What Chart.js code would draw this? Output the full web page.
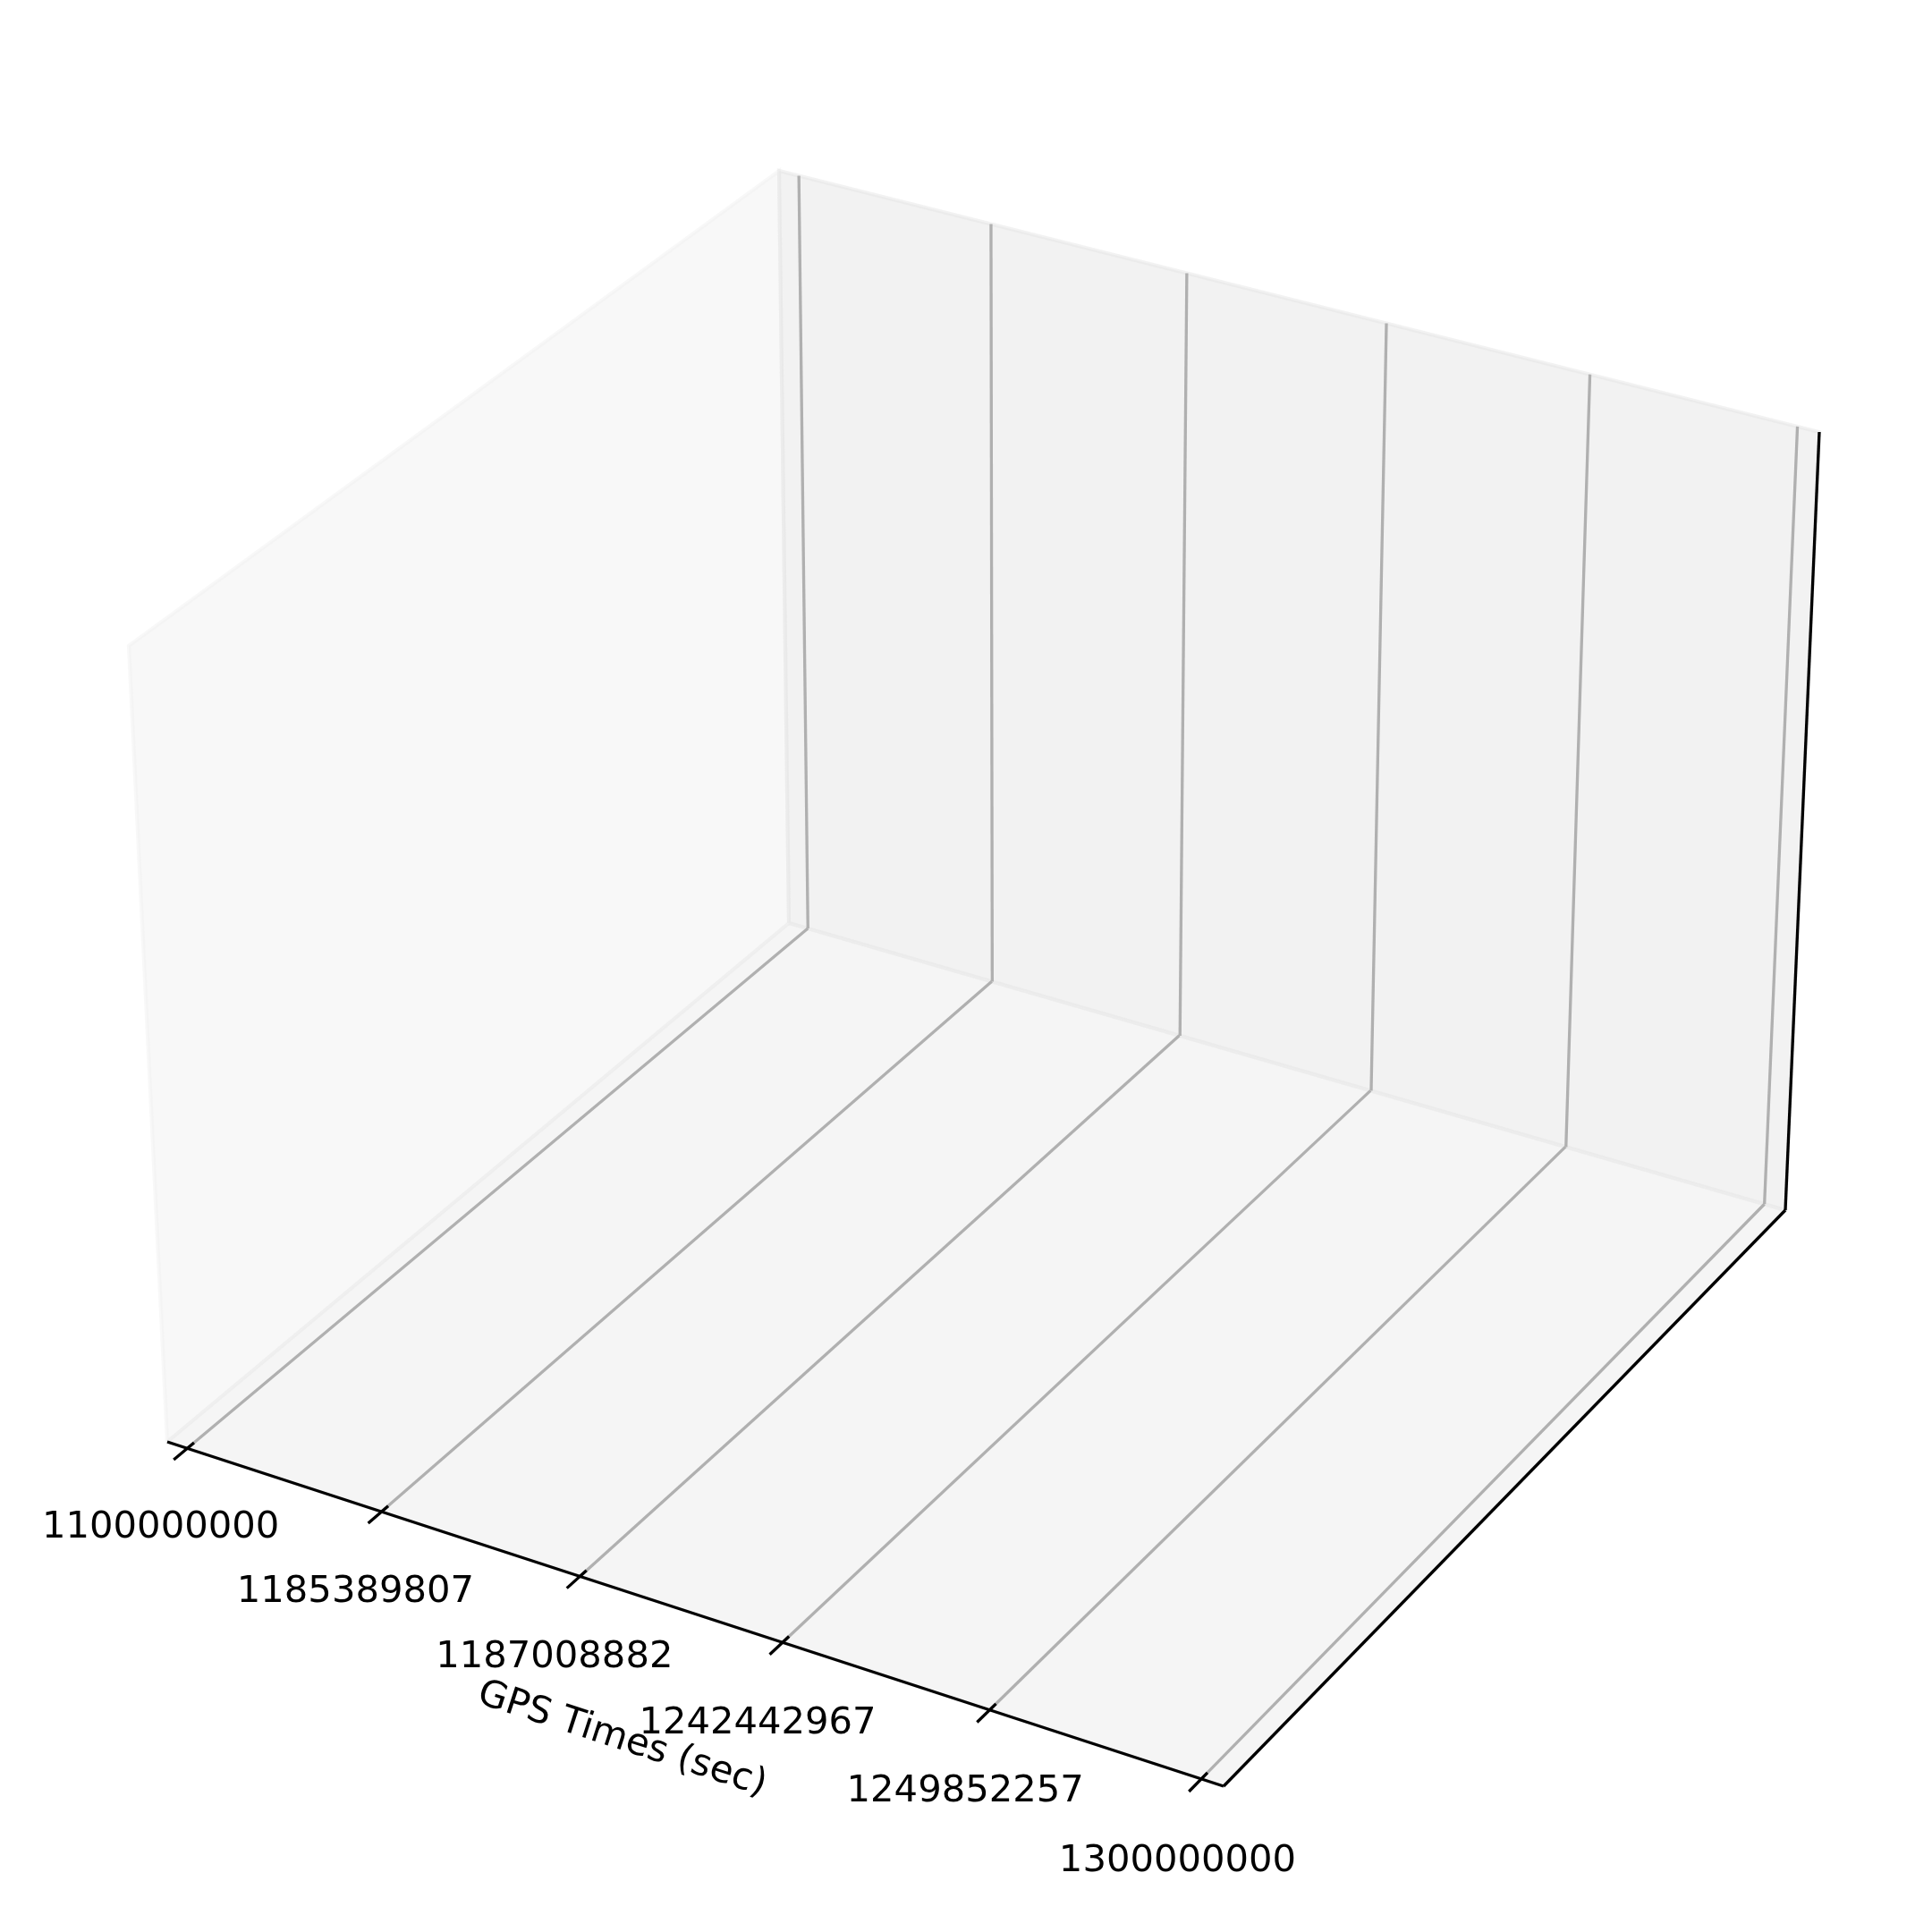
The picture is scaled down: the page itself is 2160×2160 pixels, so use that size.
<!DOCTYPE html>
<html><head><meta charset="utf-8">
<script src="https://cdn.jsdelivr.net/npm/chart.js@4.4.1/dist/chart.umd.min.js"></script>
<style>html,body{margin:0;padding:0;background:#fff;overflow:hidden}</style>
</head><body>
<canvas id="c" width="2160" height="2160" style="width:2160px;height:2160px"></canvas>
<script>
// ---- data ----
const xTickLabels = ['1100000000','1185389807','1187008882','1242442967','1249852257','1300000000'];
const xTickPositions = [0,1,2,3,4,5];
const yTickPositions = [];
const zTickPositions = [];
const xAxisTitle = 'GPS Times (sec)';

// ---- layout: projected corners of the 3D box (screen px) ----
const A=[187,1612], B=[1368,1997], C=[1996,1353], D=[882,1032], E=[144,722], F=[871,191], G=[2034,483];

function homography(p0,p1,p2,p3){ // (0,0),(1,0),(1,1),(0,1)
  const dx1=p1[0]-p2[0], dx2=p3[0]-p2[0], dx3=p0[0]-p1[0]+p2[0]-p3[0];
  const dy1=p1[1]-p2[1], dy2=p3[1]-p2[1], dy3=p0[1]-p1[1]+p2[1]-p3[1];
  const det=dx1*dy2-dx2*dy1;
  const g=(dx3*dy2-dx2*dy3)/det, h=(dx1*dy3-dx3*dy1)/det;
  const a=p1[0]-p0[0]+g*p1[0], b=p3[0]-p0[0]+h*p3[0], c=p0[0];
  const d=p1[1]-p0[1]+g*p1[1], e=p3[1]-p0[1]+h*p3[1], f=p0[1];
  return (u,v)=>{const w=g*u+h*v+1; return {x:(a*u+b*v+c)/w, y:(d*u+e*v+f)/w};};
}
const floorMap = homography(A,B,C,D);   // u: x, v: y
const backMap  = homography(D,C,G,F);   // u: x, v: z
const leftMap  = homography(A,D,F,E);   // u: y, v: z

const xmin = Math.min(...xTickPositions), xmax = Math.max(...xTickPositions);
const pad = (xmax-xmin)/48;
const xFrac = t => (t-(xmin-pad))/((xmax+pad)-(xmin-pad));

const datasets = [];
function line(points, color, width, order, fillColor){
  datasets.push({data:points, showLine:true, borderColor:color, borderWidth:width,
    backgroundColor: fillColor||'transparent', fill: fillColor?'shape':false,
    pointRadius:0, pointHoverRadius:0, order:order, tension:0, borderCapStyle:'butt', borderJoinStyle:'miter'});
}
function pane(map, color){
  const pts=[map(0,0),map(1,0),map(1,1),map(0,1),map(0,0)];
  line(pts, color, 4.2, 100-datasets.length, color);
}
pane(leftMap,  'rgba(242,242,242,0.5)');
pane(backMap,  'rgba(230,230,230,0.5)');
pane(floorMap, 'rgba(236,236,236,0.5)');

// grid lines for x ticks (floor + back wall)
xTickPositions.forEach(t=>{
  const u=xFrac(t);
  line([floorMap(u,0),floorMap(u,1)], '#b0b0b0', 3.3, 50);
  line([backMap(u,0),backMap(u,1)], '#b0b0b0', 3.3, 50);
});
// axis lines
line([floorMap(0,0),floorMap(1,0)], '#000', 3.3, 10);
line([floorMap(1,0),floorMap(1,1)], '#000', 3.3, 10);
line([backMap(1,0),backMap(1,1)], '#000', 3.3, 10);
// tick marks
xTickPositions.forEach(t=>{
  const u=xFrac(t);
  line([floorMap(u,-0.02),floorMap(u,0.01)], '#000', 3.3, 5);
});

const FONT = '41.7px "DejaVu Sans"';
const labelPlugin = {
  id:'labels3d',
  afterDraw(chart){
    const ctx=chart.ctx;
    ctx.save();
    ctx.fillStyle='#000';
    ctx.font=FONT;
    ctx.textAlign='center';
    ctx.textBaseline='alphabetic';
    xTickPositions.forEach((t,i)=>{
      const p=floorMap(xFrac(t),-0.047);
      ctx.fillText(xTickLabels[i], p.x+6, p.y+55+15.2);
    });
    const a=floorMap(0,0), b=floorMap(1,0);
    const ang=Math.atan2(b.y-a.y,b.x-a.x);
    const m=floorMap(0.5,-0.095);
    ctx.translate(m.x+4, m.y+82);
    ctx.rotate(ang);
    ctx.textBaseline='middle';
    ctx.fillText(xAxisTitle,0,0);
    ctx.restore();
  }
};

new Chart(document.getElementById('c').getContext('2d'), {
  type:'scatter',
  data:{datasets},
  options:{
    responsive:false, animation:false, devicePixelRatio:1,
    layout:{padding:0},
    plugins:{legend:{display:false}, tooltip:{enabled:false}},
    events:[],
    scales:{
      x:{type:'linear', min:0, max:2160, display:false},
      y:{type:'linear', min:0, max:2160, reverse:true, display:false}
    }
  },
  plugins:[labelPlugin]
});
</script>
</body></html>
